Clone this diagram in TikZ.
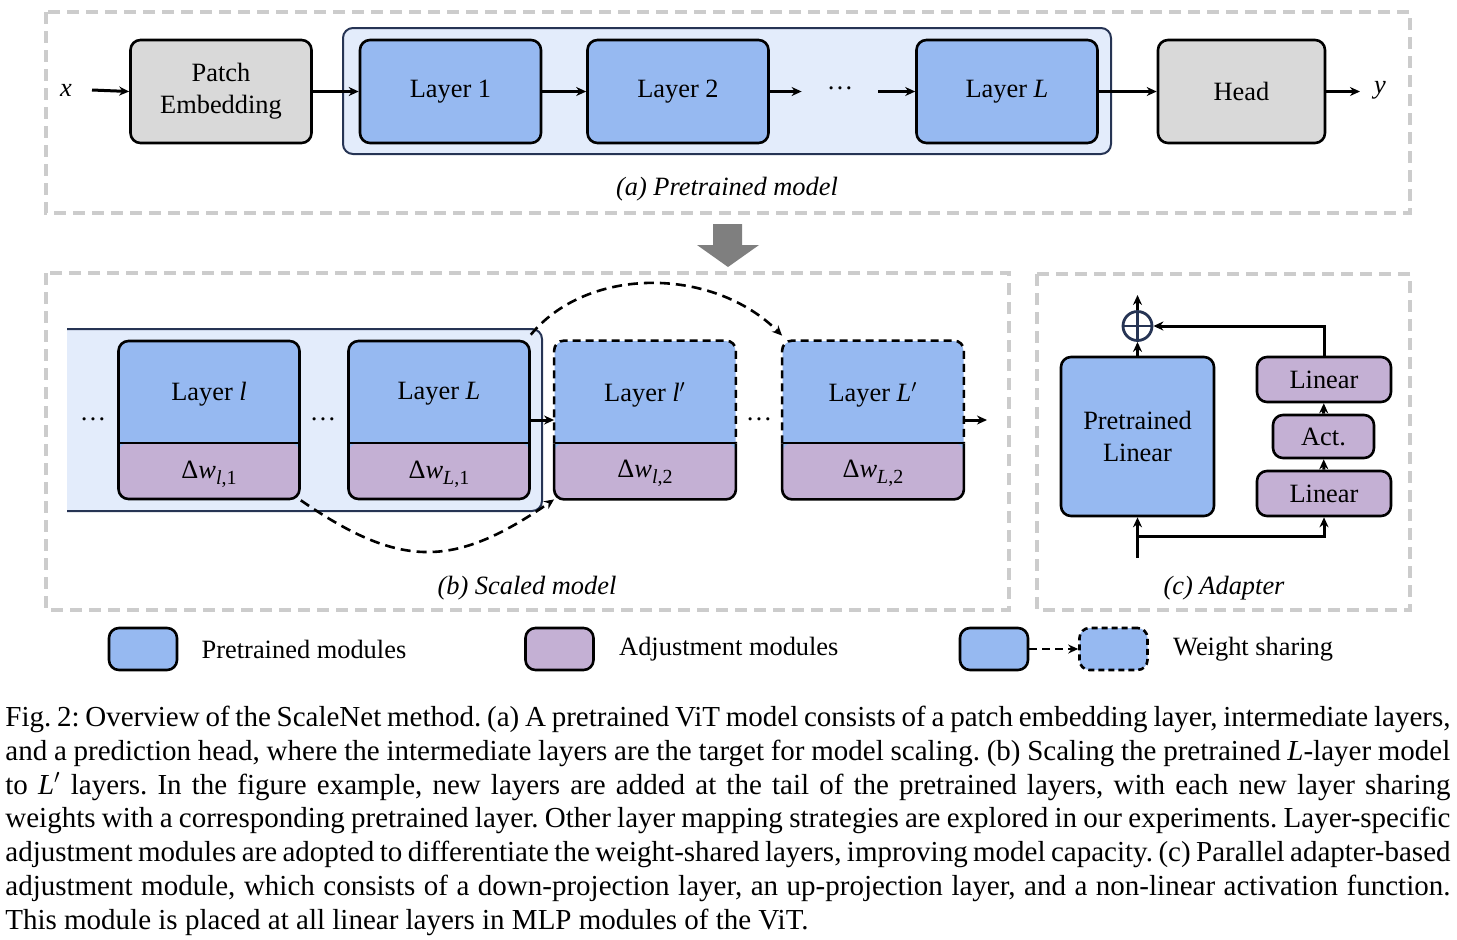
\documentclass[tikz,border=0pt]{standalone}
\usepackage{fontspec}
\setmainfont{Liberation Serif}
\usetikzlibrary{arrows.meta,positioning}
\definecolor{ptblue}{RGB}{150,185,241}
\definecolor{adjpurple}{RGB}{196,176,212}
\definecolor{embgray}{RGB}{217,217,217}
\definecolor{grpblue}{RGB}{227,236,251}
\definecolor{grpline}{RGB}{38,52,84}
\definecolor{framegray}{RGB}{204,204,204}
\definecolor{bigarrow}{RGB}{127,127,127}
\newcommand{\dwt}[2]{Δ\textit{w}\raisebox{-0.45ex}{\fontsize{10pt}{10pt}\selectfont\textit{#1},#2}}
\newcommand{\lyrdots}{\raisebox{0.22em}{…}}
\tikzset{pin/.style={-{Stealth[length=5pt,width=4.5pt]}, line width=1.5pt},
  share/.style={pin, line width=1.3pt, dash pattern=on 5pt off 3pt},
  blk/.style={draw, line width=1.3pt, rounded corners=5pt, minimum width=90.5pt, minimum height=51.5pt, inner sep=0pt, align=center},
  ptblk/.style={blk, fill=ptblue},
  gryblk/.style={blk, fill=embgray},
  adjblk/.style={blk, fill=adjpurple},
  frame/.style={draw=framegray, line width=2pt, dash pattern=on 6pt off 3.5pt},
  grp/.style={draw=grpline, line width=1pt, fill=grpblue, rounded corners=5pt},
  lyrb/.style={fill=ptblue, rounded corners=5pt, minimum width=90.5pt, minimum height=79pt, inner sep=0pt,
    path picture={\fill[adjpurple] (path picture bounding box.south west) rectangle ([yshift=28pt]path picture bounding box.south east);
      \draw[line width=1.3pt] ([yshift=28pt]path picture bounding box.south west) -- ([yshift=28pt]path picture bounding box.south east);}},
  lyrpt/.style={lyrb, draw, line width=1.3pt},
  txt/.style={inner sep=0pt},
  sub/.style={inner sep=0pt, font=\fontsize{13.2pt}{16pt}\selectfont\itshape}}

\begin{document}
\begin{tikzpicture}[x=0.5pt, y=-0.5pt, font=\fontsize{13.2pt}{16pt}\selectfont]
  \useasboundingbox (0,0) rectangle (1457,939);
  \draw[frame] (46,12) rectangle (1410,213);
  \draw[frame] (46,273) rectangle (1009,610);
  \draw[frame] (1037,274) rectangle (1410,610);

  % (a) pretrained model
  \draw[grp] (343,28) rectangle (1111,154);
  \node[txt] (xin) at (66,90) {\textit{x}};
  \node[gryblk] (patch) at (221,91.5) {Patch\\Embedding};
  \node[ptblk] (la1) at (450.5,91.5) {Layer 1};
  \node[ptblk] (la2) at (678,91.5) {Layer 2};
  \node[txt, minimum width=38pt] (dota) at (840,91.5) {\lyrdots};
  \node[ptblk] (laL) at (1007,91.5) {Layer \textit{L}};
  \node[gryblk, minimum width=83.5pt] (head) at (1241.5,91.5) {Head};
  \node[txt] (yout) at (1380,90) {\textit{y}};
  \draw[pin] (92,90) -- (patch.west);
  \draw[pin] (patch) -- (la1);
  \draw[pin] (la1) -- (la2);
  \draw[pin] (la2) -- (dota);
  \draw[pin] (dota) -- (laL);
  \draw[pin] (laL) -- (head);
  \draw[pin] (head.east) -- (1360,91.5);
  \node[sub] (capa) at (727,189) {(a) Pretrained model};

  \fill[bigarrow] (713,224) -- (742,224) -- (742,245) -- (759,245) -- (728,267) -- (697,245) -- (713,245) -- cycle;

  % (b) scaled model
  \draw[grp] (67,329) -- (542,329) -- (542,511) -- (67,511);
  \node[lyrpt] (bl1) at (209,420) {};
  \node[lyrpt] (bL1) at (439,420) {};
  \node[lyrb] (bl2) at (645,420) {};
  \node[lyrb] (bL2) at (873,420) {};
  \foreach \b in {bl2,bL2}{
    \draw[line width=1.3pt, dash pattern=on 4pt off 2.5pt, rounded corners=5pt] ([yshift=28pt]\b.south west) -- (\b.north west) -- (\b.north east) -- ([yshift=28pt]\b.south east);
    \draw[line width=1.3pt, rounded corners=5pt] ([yshift=28pt]\b.south west) -- (\b.south west) -- (\b.south east) -- ([yshift=28pt]\b.south east);
  }
  \node[txt] (tl1) at ([yshift=-27pt]bl1.north) {Layer \textit{l}};
  \node[txt] (tL1) at ([yshift=-27pt]bL1.north) {Layer \textit{L}};
  \node[txt] (tl2) at ([yshift=-27pt]bl2.north) {Layer \textit{l}$'$};
  \node[txt] (tL2) at ([yshift=-27pt]bL2.north) {Layer \textit{L}$'$};
  \node[txt] (wl1) at ([yshift=13pt]bl1.south) {\dwt{l}{1}};
  \node[txt] (wL1) at ([yshift=13pt]bL1.south) {\dwt{L}{1}};
  \node[txt] (wl2) at ([yshift=13pt]bl2.south) {\dwt{l}{2}};
  \node[txt] (wL2) at ([yshift=13pt]bL2.south) {\dwt{L}{2}};
  \node[txt] (dotb1) at (93,422) {\lyrdots};
  \node[txt] (dotb2) at (323,422) {\lyrdots};
  \node[txt] (dotb3) at (759,422) {\lyrdots};
  \draw[pin] (bL1) -- (bl2);
  \draw[pin] (bL2.east) -- (987,420);
  \draw[share] ([yshift=2.5pt]bL1.north east) .. controls +(28.5pt,34.5pt) and +(-34.5pt,34.5pt) .. ([yshift=2.5pt]bL2.north west);
  \draw[share] (bl1.south east) .. controls +(50pt,-34.5pt) and +(-50pt,-34.5pt) .. (bl2.south west);
  \node[sub] (capb) at (527,588) {(b) Scaled model};

  % (c) adapter
  \node[ptblk, minimum width=76.5pt, minimum height=79.5pt] (plin) at (1137.5,436.5) {Pretrained\\Linear};
  \node[adjblk, minimum width=67pt, minimum height=22.5pt] (lin2) at (1324,379.5) {Linear};
  \node[adjblk, minimum width=50.5pt, minimum height=21.5pt] (act) at (1323.5,436.5) {Act.};
  \node[adjblk, minimum width=67pt, minimum height=22.5pt] (lin1) at (1324,493.5) {Linear};
  \node[draw=grpline, circle, line width=1.4pt, minimum size=14.5pt, inner sep=0pt,
    path picture={\draw[grpline, line width=1.4pt] (path picture bounding box.north) -- (path picture bounding box.south)
      (path picture bounding box.west) -- (path picture bounding box.east);}] (sum) at (1137.5,326) {};
  \coordinate (cin) at (1137.5,558);
  \coordinate (cfork) at (1137.5,536);
  \coordinate (cout) at (1137.5,295);
  \draw[pin] (cin) -- (plin.south);
  \draw[pin] (cfork) -| (lin1.south);
  \draw[pin] (lin1) -- (act);
  \draw[pin] (act) -- (lin2);
  \draw[pin] (lin2.north) |- (sum.east);
  \draw[pin] (plin) -- (sum);
  \draw[pin] (sum) -- (cout);
  \node[sub] (capc) at (1224,588) {(c) Adapter};

  % legend
  \node[ptblk, minimum width=34pt, minimum height=21pt] (kpt) at (143,649) {};
  \node[txt, right=11.5pt of kpt] (kpttxt) {Pretrained modules};
  \node[adjblk, minimum width=34pt, minimum height=21pt] (kadj) at (559.5,649) {};
  \node[txt, right=12pt of kadj] (kadjtxt) {Adjustment modules};
  \node[ptblk, minimum width=34pt, minimum height=21pt] (kfrom) at (994,649) {};
  \node[blk, fill=ptblue, dash pattern=on 3pt off 2pt, minimum width=34pt, minimum height=21pt] (kto) at (1113.5,649) {};
  \draw[share, dash pattern=on 4pt off 2.5pt] (kfrom) -- (kto);
  \node[txt, right=12pt of kto] (kshtxt) {Weight sharing};

  \node[anchor=north west, inner sep=0pt, text width=722.5pt, align=justify, font=\fontsize{14.5pt}{16.85pt}\selectfont] (cap) at (5,706)
    {\frenchspacing\hyphenpenalty=10000\exhyphenpenalty=10000 Fig. 2: Overview of the ScaleNet method. (a) A pretrained ViT model consists of a patch embedding layer, intermediate layers,\linebreak
    and a prediction head, where the intermediate layers are the target for model scaling. (b) Scaling the pretrained \textit{L}-layer model\linebreak
    to \textit{L}$'$ layers. In the figure example, new layers are added at the tail of the pretrained layers, with each new layer sharing\linebreak
    weights with a corresponding pretrained layer. Other layer mapping strategies are explored in our experiments. Layer-specific\linebreak
    adjustment modules are adopted to differentiate the weight-shared layers, improving model capacity. (c) Parallel adapter-based\linebreak
    adjustment module, which consists of a down-projection layer, an up-projection layer, and a non-linear activation function.\linebreak
    This module is placed at all linear layers in MLP modules of the ViT.};
\end{tikzpicture}
\end{document}
